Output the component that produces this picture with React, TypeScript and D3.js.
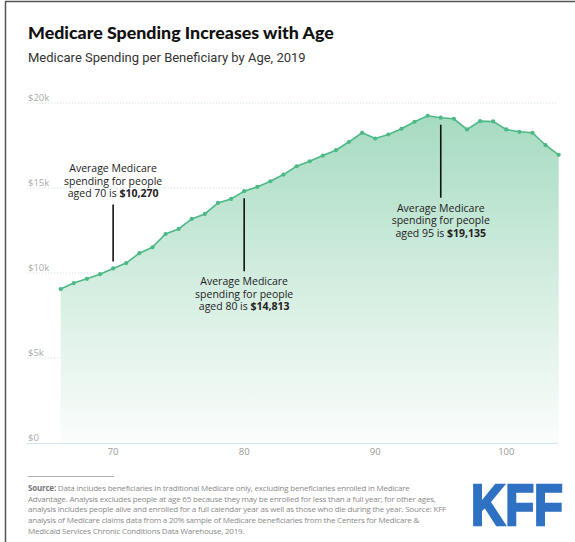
import React from "react";
import * as d3 from "d3";

const ages = [66, 67, 68, 69, 70, 71, 72, 73, 74, 75, 76, 77, 78, 79, 80, 81, 82, 83, 84, 85, 86, 87, 88, 89, 90, 91, 92, 93, 94, 95, 96, 97, 98, 99, 100, 101, 102, 103, 104];
const spending = [9053, 9407, 9660, 9930, 10270, 10586, 11165, 11515, 12295, 12590, 13179, 13474, 14122, 14358, 14813, 15065, 15396, 15790, 16280, 16574, 16910, 17223, 17718, 18248, 17912, 18148, 18484, 18896, 19250, 19135, 19073, 18443, 18932, 18914, 18443, 18307, 18248, 17517, 16951];
const yTicks = [0, 5000, 10000, 15000, 20000];
const yTickLabels = ["$0", "$5k", "$10k", "$15k", "$20k"];
const xTicks = [70, 80, 90, 100];

const annotAges = [70, 80, 95];
const annotValues = ["$10,270", "$14,813", "$19,135"];
const annotAbove = [true, false, false];

const footerLines = [
  "Data includes beneficiaries in traditional Medicare only, excluding beneficiaries enrolled in Medicare",
  "Advantage. Analysis excludes people at age 65 because they may be enrolled for less than a full year; for other ages,",
  "analysis includes people alive and enrolled for a full calendar year as well as those who die during the year. Source: KFF",
  "analysis of Medicare claims data from a 20% sample of Medicare beneficiaries from the Centers for Medicare &",
  "Medicaid Services Chronic Conditions Data Warehouse, 2019.",
];

const W = 575;
const H = 542;
const GREEN = "#4cb986";
const SANS = "'Open Sans', 'Noto Sans', sans-serif";

export default function App() {
  const x = d3.scaleLinear().domain([66, 104]).range([60.7, 558.7]);
  const y = d3.scaleLinear().domain([0, 20000]).range([443, 103]);
  const data = ages.map((a, i) => ({ a, v: spending[i] }));

  const line = d3.line<{ a: number; v: number }>().x((d) => x(d.a)).y((d) => y(d.v));
  const area = d3
    .area<{ a: number; v: number }>()
    .x((d) => x(d.a))
    .y0(y(0))
    .y1((d) => y(d.v));

  return (
    <div style={{ position: "absolute", left: 0, top: 0, width: W, height: H, background: "#fff" }}>
      <svg width={W} height={H} style={{ display: "block" }}>
        <defs>
          <linearGradient id="areaGrad" gradientUnits="userSpaceOnUse" x1="0" y1={y(19250)} x2="0" y2={y(0)}>
            <stop offset="0" stopColor="#a6dbc1" />
            <stop offset="0.5" stopColor="#d3ede0" />
            <stop offset="1" stopColor="#fbfdfc" />
          </linearGradient>
        </defs>
        <rect x={0} y={0} width={W} height={H} fill="#fff" />
        <line x1={5} x2={W} y1={1.5} y2={1.5} stroke="#555" strokeWidth={1.5} />
        <line x1={5.5} x2={5.5} y1={1} y2={H} stroke="#555" strokeWidth={1.5} />

        <text x={28} y={39} fontFamily="Lato, sans-serif" fontWeight={900} fontSize={17.8} fill="#111">
          Medicare Spending Increases with Age
        </text>
        <text x={28} y={62} fontFamily="Roboto, sans-serif" fontSize={13} fill="#333">
          Medicare Spending per Beneficiary by Age, 2019
        </text>

        {yTicks.map((t) =>
          t === 0 ? null : (
            <line key={"g" + t} x1={27} x2={558} y1={y(t)} y2={y(t)} stroke="#cfe0e6" strokeWidth={1} strokeDasharray="1.2,1.8" />
          )
        )}

        <path d={area(data) || ""} fill="url(#areaGrad)" />
        <path d={line(data) || ""} fill="none" stroke={GREEN} strokeWidth={1.6} />
        {data.map((d) => (
          <circle key={d.a} cx={x(d.a)} cy={y(d.v)} r={2.1} fill={GREEN} />
        ))}

        <line x1={27} x2={558} y1={y(0) + 0.5} y2={y(0) + 0.5} stroke="#cfe5f2" strokeWidth={1} />

        {yTicks.map((t, i) => (
          <text key={"yl" + t} x={28} y={y(t) - 2.5} fontFamily={SANS} fontSize={9.5} fill="#aaa">
            {yTickLabels[i]}
          </text>
        ))}
        {xTicks.map((t) => (
          <text key={"xl" + t} x={x(t)} y={455} textAnchor="middle" fontFamily={SANS} fontSize={9.5} fill="#999">
            {t}
          </text>
        ))}

        {annotAges.map((a, i) => {
          const v = spending[ages.indexOf(a)];
          const px = x(a);
          const py = y(v);
          const above = annotAbove[i];
          const lineTop = above ? py - 64 : py + 7;
          const lineBot = above ? py - 7 : py + 80;
          return (
            <g key={"an" + a}>
              <line x1={px} x2={px} y1={lineTop} y2={lineBot} stroke="#111" strokeWidth={1.6} />
              <text x={px} textAnchor="middle" fontFamily={SANS} fontSize={10.5} fill="#222">
                <tspan x={px} y={above ? py - 96 : lineBot + 14}>Average Medicare</tspan>
                <tspan x={px} dy={12.4}>spending for people</tspan>
                <tspan x={px} dy={12.4}>
                  {"aged " + a + " is "}
                  <tspan fontWeight={700}>{annotValues[i]}</tspan>
                </tspan>
              </text>
            </g>
          );
        })}

        <line x1={28} x2={114} y1={476.5} y2={476.5} stroke="#999" strokeWidth={0.8} />
        {footerLines.map((l, i) => (
          <text key={"f" + i} x={28} y={491 + i * 10.7} fontFamily={SANS} fontSize={8} letterSpacing={-0.2} fill="#8a8a8a">
            {i === 0 ? <tspan fontWeight={700} fill="#777">Source: </tspan> : null}
            {l}
          </text>
        ))}

        <text x={471} y={524.5} fontFamily="'Liberation Sans', Arial, sans-serif" fontWeight={700} fontSize={58} fill="#2f71c2" stroke="#2f71c2" strokeWidth={2.5} strokeLinejoin="miter" textLength={92} lengthAdjust="spacingAndGlyphs">
          KFF
        </text>
      </svg>
    </div>
  );
}
